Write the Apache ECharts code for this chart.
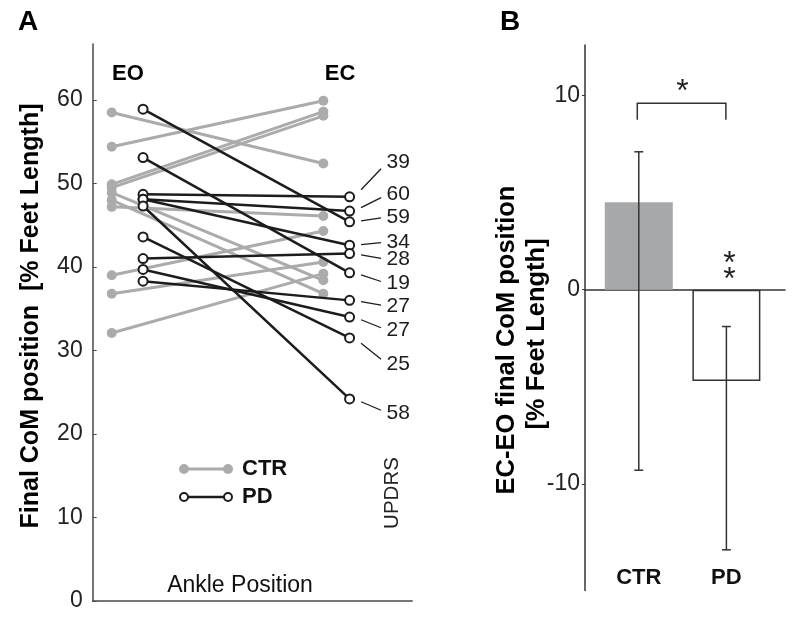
<!DOCTYPE html>
<html><head><meta charset="utf-8">
<script src="https://cdn.jsdelivr.net/npm/echarts@6/dist/echarts.min.js"></script>
<style>html,body{margin:0;padding:0;background:#fff;}#c{width:800px;height:621px;}</style>
</head><body><div id="c"></div>
<script>
// ---------- Panel A data ----------
const conditions = ['EO', 'EC'];
const ctrEO = [58.5, 54.4, 49.9, 49.5, 48.9, 48.0, 47.2, 39.0, 36.8, 32.1];
const ctrEC = [52.4, 59.9, 58.6, 58.1, 38.4, 36.8, 46.1, 44.3, 40.6, 39.2];
const pdEO  = [58.9, 53.1, 48.7, 48.1, 48.1, 47.3, 43.6, 41.0, 39.7, 38.3];
const pdEC  = [45.4, 39.3, 48.4, 46.7, 42.6, 24.2, 31.5, 41.6, 34.0, 36.0];
const pdUPDRS = [59, 19, 39, 60, 34, 58, 25, 28, 27, 27];
const yTicksA = [0, 10, 20, 30, 40, 50, 60];
// ---------- Panel B data ----------
const groups = ['CTR', 'PD'];
const diffMean = [4.5, -4.7];
const diffErrHigh = [7.1, -1.9];
const diffErrLow = [-9.3, -13.4];
const yTicksB = [-10, 0, 10];

// ---------- layout (not data) ----------
const X_CTR = [1, 2];
const X_PD = [1.148, 2.124];
const updrsLabelY = [46.0, 38.0, 52.6, 48.7, 43.0, 22.5, 28.3, 40.9, 32.4, 35.3];
const FONT = '"Liberation Sans", Arial, sans-serif';
const GREY = '#ababab';
const DARK = '#1c1c1c';
const AX = '#4a4a4a';

const chart = echarts.init(document.getElementById('c'), null, {renderer: 'canvas'});

const series = [];
ctrEO.forEach((v, i) => {
  series.push({
    type: 'line', xAxisIndex: 0, yAxisIndex: 0, z: 2,
    data: [[X_CTR[0], v], [X_CTR[1], ctrEC[i]]],
    symbol: 'circle', symbolSize: 10,
    lineStyle: {color: GREY, width: 3},
    itemStyle: {color: GREY, borderWidth: 0},
    silent: true
  });
});
pdEO.forEach((v, i) => {
  series.push({
    type: 'line', xAxisIndex: 0, yAxisIndex: 0, z: 3,
    data: [[X_PD[0], v], [X_PD[1], pdEC[i]]],
    symbol: 'circle', symbolSize: 9,
    lineStyle: {color: DARK, width: 2.5},
    itemStyle: {color: '#fff', borderColor: DARK, borderWidth: 2},
    silent: true
  });
});
// UPDRS labels with leader lines
series.push({
  type: 'custom', xAxisIndex: 0, yAxisIndex: 0, z: 4, silent: true,
  data: pdEC.map((v, i) => [X_PD[1], v, updrsLabelY[i], pdUPDRS[i]]),
  renderItem: function (params, api) {
    const p = api.coord([api.value(0), api.value(1)]);
    const l = api.coord([api.value(0), api.value(2)]);
    const y1 = p[1] + 0.2 * (l[1] - p[1]);
    const y2 = p[1] + 0.8 * (l[1] - p[1]);
    return {type: 'group', children: [
      {type: 'line', shape: {x1: p[0] + 11.5, y1: y1, x2: p[0] + 31.5, y2: y2},
       style: {stroke: DARK, lineWidth: 1.3}},
      {type: 'text', x: p[0] + 37, y: l[1],
       style: {text: String(api.value(3)), fill: DARK, font: '21px ' + FONT, align: 'left', verticalAlign: 'middle'}}
    ]};
  }
});
// Panel B bars
series.push({
  type: 'bar', xAxisIndex: 1, yAxisIndex: 1, barWidth: 68, z: 2, silent: true,
  data: diffMean.map((v, i) => ({
    value: [i + 1, v],
    itemStyle: i === 0 ? {color: '#a7a8aa', borderWidth: 0} : {color: '#fff', borderColor: '#333', borderWidth: 1.5}
  }))
});
// error bars
series.push({
  type: 'custom', xAxisIndex: 1, yAxisIndex: 1, z: 5, silent: true,
  data: groups.map((g, i) => [i + 1, diffErrLow[i], diffErrHigh[i]]),
  renderItem: function (params, api) {
    const lo = api.coord([api.value(0), api.value(1)]);
    const hi = api.coord([api.value(0), api.value(2)]);
    const s = {stroke: '#333', lineWidth: 1.5};
    return {type: 'group', children: [
      {type: 'line', shape: {x1: lo[0], y1: lo[1], x2: hi[0], y2: hi[1]}, style: s},
      {type: 'line', shape: {x1: lo[0] - 4.5, y1: lo[1], x2: lo[0] + 4.5, y2: lo[1]}, style: s},
      {type: 'line', shape: {x1: hi[0] - 4.5, y1: hi[1], x2: hi[0] + 4.5, y2: hi[1]}, style: s}
    ]};
  }
});
// significance bracket & stars
series.push({
  type: 'custom', xAxisIndex: 1, yAxisIndex: 1, z: 5, silent: true,
  data: [[1, 2, 9.6, 8.75, 10.15]],
  renderItem: function (params, api) {
    const a = api.coord([api.value(0), api.value(2)]);
    const b = api.coord([api.value(1), api.value(3)]);
    const st = api.coord([(api.value(0) + api.value(1)) / 2, api.value(4)]);
    const pd = api.coord([api.value(1), 0]);
    const sf = '32px ' + FONT;
    return {type: 'group', children: [
      {type: 'polyline', shape: {points: [[a[0] - 1.5, b[1]], [a[0] - 1.5, a[1]], [b[0] - 0.5, a[1]], [b[0] - 0.5, b[1]]]},
       style: {stroke: '#333', lineWidth: 1.5, fill: null}},
      {type: 'text', x: st[0], y: st[1], style: {text: '*', font: sf, fill: '#222', align: 'center', verticalAlign: 'middle'}},
      {type: 'text', x: pd[0] + 3, y: pd[1] - 25, style: {text: '*', font: sf, fill: '#222', align: 'center', verticalAlign: 'middle'}},
      {type: 'text', x: pd[0] + 3, y: pd[1] - 9, style: {text: '*', font: sf, fill: '#222', align: 'center', verticalAlign: 'middle'}}
    ]};
  }
});

const option = {
  animation: false,
  backgroundColor: '#fff',
  grid: [
    {left: 92.7, top: 44, right: 387.8, bottom: 20},
    {left: 585, top: 45, right: 15, bottom: 30.4}
  ],
  xAxis: [
    {gridIndex: 0, type: 'value', min: 0.91, max: 2.42, position: 'bottom',
     axisLine: {show: true, onZero: false, lineStyle: {color: AX, width: 1.5}},
     axisTick: {show: false}, axisLabel: {show: false}, splitLine: {show: false}},
    {gridIndex: 1, type: 'value', min: 0.386, max: 2.669,
     axisLine: {show: true, onZero: true, lineStyle: {color: '#333', width: 1.5}},
     axisTick: {show: false}, axisLabel: {show: false}, splitLine: {show: false}},
    {gridIndex: 1, type: 'value', min: 0.386, max: 2.669, position: 'bottom',
     axisLine: {show: false, onZero: false}, axisTick: {show: false}, splitLine: {show: false},
     axisLabel: {show: true, customValues: [1, 2], formatter: v => groups[Math.round(v) - 1],
       color: '#111', fontWeight: 'bold', fontSize: 22, fontFamily: FONT, margin: -24}}
  ],
  yAxis: [
    {gridIndex: 0, type: 'value', min: 0, max: 66.7, interval: 10,
     axisLine: {show: true, onZero: false, lineStyle: {color: AX, width: 1.5}},
     axisTick: {show: true, inside: true, length: 4, lineStyle: {color: AX}, customValues: yTicksA},
     axisLabel: {color: '#222', fontSize: 23, fontFamily: FONT, margin: 10, customValues: yTicksA},
     splitLine: {show: false}},
    {gridIndex: 1, type: 'value', min: -15.5, max: 12.6,
     axisLine: {show: true, onZero: false, lineStyle: {color: '#333', width: 1.5}},
     axisTick: {show: true, inside: false, length: 3, lineStyle: {color: '#333'}, customValues: yTicksB},
     axisLabel: {color: '#222', fontSize: 23, fontFamily: FONT, margin: 5, customValues: yTicksB},
     splitLine: {show: false}}
  ],
  graphic: [
    {type: 'text', x: 28, y: 22, style: {text: 'A', font: 'bold 28px ' + FONT, fill: '#000', align: 'center', verticalAlign: 'middle'}},
    {type: 'text', x: 510, y: 22, style: {text: 'B', font: 'bold 28px ' + FONT, fill: '#000', align: 'center', verticalAlign: 'middle'}},
    {type: 'text', x: 128, y: 74, style: {text: conditions[0], font: 'bold 22px ' + FONT, fill: '#000', align: 'center', verticalAlign: 'middle'}},
    {type: 'text', x: 340, y: 74, style: {text: conditions[1], font: 'bold 22px ' + FONT, fill: '#000', align: 'center', verticalAlign: 'middle'}},
    {type: 'text', x: 31, y: 316, rotation: Math.PI / 2,
     style: {text: 'Final CoM position  [% Feet Length]', font: 'bold 25px ' + FONT, fill: '#000', align: 'center', verticalAlign: 'middle'}},
    {type: 'text', x: 240, y: 586, style: {text: 'Ankle Position', font: '23px ' + FONT, fill: '#111', align: 'center', verticalAlign: 'middle'}},
    {type: 'text', x: 392, y: 493, rotation: Math.PI / 2,
     style: {text: 'UPDRS', font: '20.5px ' + FONT, fill: '#222', align: 'center', verticalAlign: 'middle'}},
    // legend
    {type: 'line', shape: {x1: 184, y1: 469, x2: 228, y2: 469}, style: {stroke: GREY, lineWidth: 3}},
    {type: 'circle', shape: {cx: 184, cy: 469, r: 5}, style: {fill: GREY}},
    {type: 'circle', shape: {cx: 228, cy: 469, r: 5}, style: {fill: GREY}},
    {type: 'text', x: 242, y: 469, style: {text: 'CTR', font: 'bold 22px ' + FONT, fill: '#111', align: 'left', verticalAlign: 'middle'}},
    {type: 'line', shape: {x1: 184, y1: 497, x2: 228, y2: 497}, style: {stroke: DARK, lineWidth: 2.5}},
    {type: 'circle', shape: {cx: 184, cy: 497, r: 4}, style: {fill: '#fff', stroke: DARK, lineWidth: 2}},
    {type: 'circle', shape: {cx: 228, cy: 497, r: 4}, style: {fill: '#fff', stroke: DARK, lineWidth: 2}},
    {type: 'text', x: 242, y: 497, style: {text: 'PD', font: 'bold 22px ' + FONT, fill: '#111', align: 'left', verticalAlign: 'middle'}},
    // panel B y title
    {type: 'text', x: 507, y: 340, rotation: Math.PI / 2,
     style: {text: 'EC-EO final CoM position', font: 'bold 25.5px ' + FONT, fill: '#000', align: 'center', verticalAlign: 'middle'}},
    {type: 'text', x: 537, y: 334, rotation: Math.PI / 2,
     style: {text: '[% Feet Length]', font: 'bold 25.5px ' + FONT, fill: '#000', align: 'center', verticalAlign: 'middle'}}
  ],
  series: series
};
chart.setOption(option);
</script>
</body></html>
